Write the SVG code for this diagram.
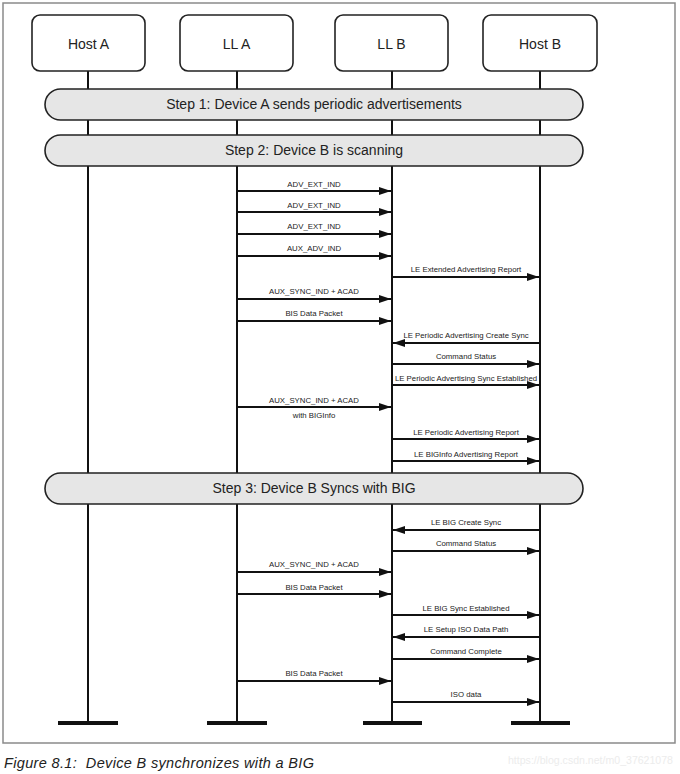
<svg xmlns="http://www.w3.org/2000/svg" width="680" height="774" viewBox="0 0 680 774">
<style>
.frame{fill:#fff;stroke:#8a8a8a;stroke-width:1.5}
.box{fill:#fff;stroke:#222;stroke-width:1.6}
.hdr{font-family:"Liberation Sans",Arial,sans-serif;font-size:14px;fill:#222;text-anchor:middle}
.life{stroke:#111;stroke-width:2}
.bar{stroke:#111;stroke-width:4}
.band{fill:#e6e6e6;stroke:#222;stroke-width:1.6}
.step{font-family:"Liberation Sans",Arial,sans-serif;font-size:14px;fill:#222;text-anchor:middle}
.msg{stroke:#111;stroke-width:2;fill:none}
.lbl{font-family:"Liberation Sans",Arial,sans-serif;font-size:7.8px;fill:#222;text-anchor:middle}
.cap{font-family:"Liberation Sans",Arial,sans-serif;font-size:14.5px;font-style:italic;fill:#222}
.wm{font-family:"Liberation Sans",Arial,sans-serif;font-size:10.5px;fill:#ececec}
</style>
<defs>
<marker id="ah" markerUnits="userSpaceOnUse" markerWidth="13" markerHeight="9" refX="12" refY="4" orient="auto">
<path d="M0,0 L12,4 L0,8 z" fill="#111"/>
</marker>
</defs>
<rect class="frame" x="3" y="3" width="672" height="740"/>
<g id="lifelines">
<line class="life" x1="88" y1="71" x2="88" y2="723"/>
<line class="life" x1="237" y1="71" x2="237" y2="723"/>
<line class="life" x1="392" y1="71" x2="392" y2="723"/>
<line class="life" x1="540" y1="71" x2="540" y2="723"/>
<line class="bar" x1="58" y1="723" x2="118" y2="723"/>
<line class="bar" x1="207" y1="723" x2="267" y2="723"/>
<line class="bar" x1="363" y1="723" x2="422" y2="723"/>
<line class="bar" x1="511" y1="723" x2="570" y2="723"/>
</g>
<g id="hostA"><rect class="box" x="32" y="15" width="113" height="56" rx="8"/><text class="hdr" x="88.5" y="49">Host A</text></g>
<g id="llA"><rect class="box" x="180" y="15" width="113" height="56" rx="8"/><text class="hdr" x="236.5" y="49">LL A</text></g>
<g id="llB"><rect class="box" x="335" y="15" width="113" height="56" rx="8"/><text class="hdr" x="391.5" y="49">LL B</text></g>
<g id="hostB"><rect class="box" x="483" y="15" width="114" height="56" rx="8"/><text class="hdr" x="540" y="49">Host B</text></g>
<g id="step1"><rect class="band" x="45" y="89" width="538" height="31" rx="15.5"/><text class="step" x="314" y="109">Step 1: Device A sends periodic advertisements</text></g>
<g id="step2"><rect class="band" x="45" y="135" width="538" height="31" rx="15.5"/><text class="step" x="314" y="155">Step 2: Device B is scanning</text></g>
<g id="step3"><rect class="band" x="45" y="473" width="538" height="31" rx="15.5"/><text class="step" x="314" y="493">Step 3: Device B Syncs with BIG</text></g>
<g id="connectors">
<line class="msg" x1="237" y1="191" x2="391" y2="191" marker-end="url(#ah)"/>
<line class="msg" x1="237" y1="212" x2="391" y2="212" marker-end="url(#ah)"/>
<line class="msg" x1="237" y1="234" x2="391" y2="234" marker-end="url(#ah)"/>
<line class="msg" x1="237" y1="256" x2="391" y2="256" marker-end="url(#ah)"/>
<line class="msg" x1="392" y1="277" x2="539" y2="277" marker-end="url(#ah)"/>
<line class="msg" x1="237" y1="299" x2="391" y2="299" marker-end="url(#ah)"/>
<line class="msg" x1="237" y1="321" x2="391" y2="321" marker-end="url(#ah)"/>
<line class="msg" x1="540" y1="343" x2="393" y2="343" marker-end="url(#ah)"/>
<line class="msg" x1="392" y1="364" x2="539" y2="364" marker-end="url(#ah)"/>
<line class="msg" x1="392" y1="385" x2="539" y2="385" marker-end="url(#ah)"/>
<line class="msg" x1="237" y1="407" x2="391" y2="407" marker-end="url(#ah)"/>
<line class="msg" x1="392" y1="439" x2="539" y2="439" marker-end="url(#ah)"/>
<line class="msg" x1="392" y1="461" x2="539" y2="461" marker-end="url(#ah)"/>
<line class="msg" x1="540" y1="530" x2="393" y2="530" marker-end="url(#ah)"/>
<line class="msg" x1="392" y1="551" x2="539" y2="551" marker-end="url(#ah)"/>
<line class="msg" x1="237" y1="572" x2="391" y2="572" marker-end="url(#ah)"/>
<line class="msg" x1="237" y1="594" x2="391" y2="594" marker-end="url(#ah)"/>
<line class="msg" x1="392" y1="615" x2="539" y2="615" marker-end="url(#ah)"/>
<line class="msg" x1="540" y1="637" x2="393" y2="637" marker-end="url(#ah)"/>
<line class="msg" x1="392" y1="659" x2="539" y2="659" marker-end="url(#ah)"/>
<line class="msg" x1="237" y1="681" x2="391" y2="681" marker-end="url(#ah)"/>
<line class="msg" x1="392" y1="702" x2="539" y2="702" marker-end="url(#ah)"/>
</g>
<g id="labels">
<text class="lbl" x="314" y="187">ADV_EXT_IND</text>
<text class="lbl" x="314" y="208">ADV_EXT_IND</text>
<text class="lbl" x="314" y="229">ADV_EXT_IND</text>
<text class="lbl" x="314" y="251">AUX_ADV_IND</text>
<text class="lbl" x="466" y="272">LE Extended Advertising Report</text>
<text class="lbl" x="314" y="294">AUX_SYNC_IND + ACAD</text>
<text class="lbl" x="314" y="316">BIS Data Packet</text>
<text class="lbl" x="466" y="338">LE Periodic Advertising Create Sync</text>
<text class="lbl" x="466" y="359">Command Status</text>
<text class="lbl" x="466" y="381">LE Periodic Advertising Sync Established</text>
<text class="lbl" x="314" y="403">AUX_SYNC_IND + ACAD</text>
<text class="lbl" x="314" y="418">with BIGInfo</text>
<text class="lbl" x="466" y="435">LE Periodic Advertising Report</text>
<text class="lbl" x="466" y="457">LE BIGInfo Advertising Report</text>
<text class="lbl" x="466" y="525">LE BIG Create Sync</text>
<text class="lbl" x="466" y="546">Command Status</text>
<text class="lbl" x="314" y="567">AUX_SYNC_IND + ACAD</text>
<text class="lbl" x="314" y="590">BIS Data Packet</text>
<text class="lbl" x="466" y="611">LE BIG Sync Established</text>
<text class="lbl" x="466" y="632">LE Setup ISO Data Path</text>
<text class="lbl" x="466" y="654">Command Complete</text>
<text class="lbl" x="314" y="676">BIS Data Packet</text>
<text class="lbl" x="466" y="697">ISO data</text>
</g>
<text class="cap" x="4" y="768" xml:space="preserve" textLength="310" lengthAdjust="spacing">Figure 8.1:  Device B synchronizes with a BIG</text>
<text class="wm" x="508" y="764" textLength="165" lengthAdjust="spacingAndGlyphs">https://blog.csdn.net/m0_37621078</text>
</svg>
